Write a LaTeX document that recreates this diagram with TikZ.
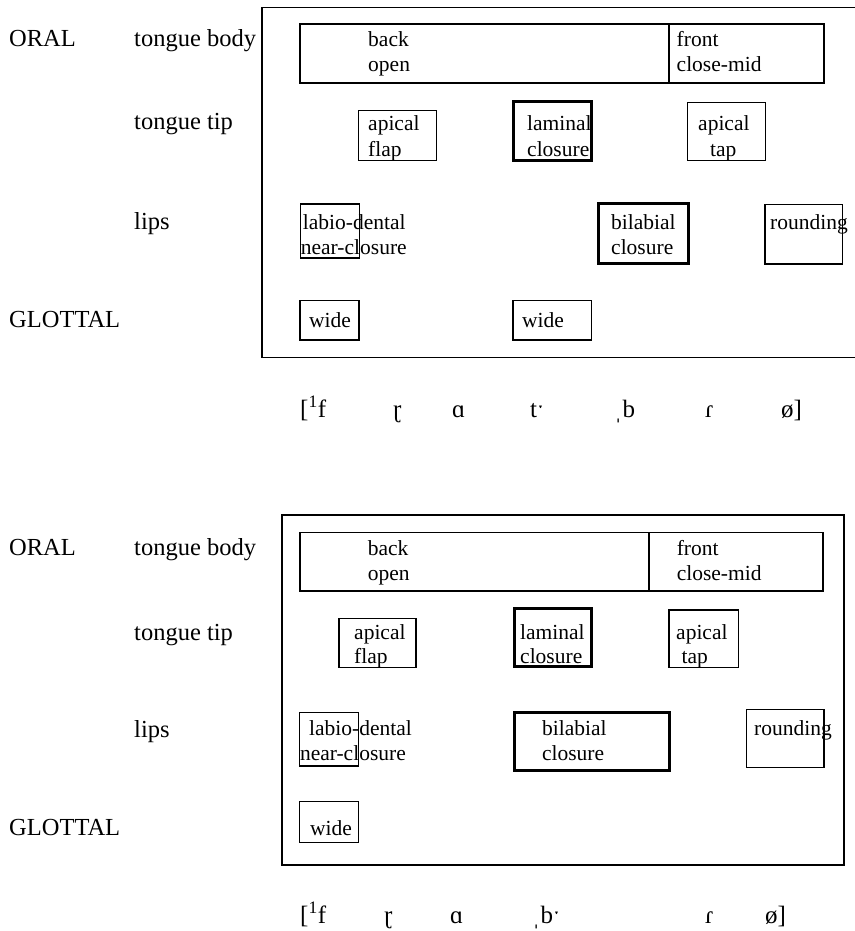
\documentclass[tikz,border=0pt]{standalone}
\usepackage{fontspec}
\setmainfont{Liberation Serif}
\begin{document}
\begin{tikzpicture}[x=1pt,y=-1pt,
  lbl/.style={anchor=base west,inner sep=0pt,font=\fontsize{24.5}{29}\selectfont},
  btxt/.style={anchor=base west,inner sep=0pt,font=\fontsize{21.5}{25}\selectfont},
  ipa/.style={anchor=base west,inner sep=0pt,font=\fontsize{25}{30}\selectfont},
  frameline/.style={draw,line width=1.6pt},
  box/.style={draw,line width=1.2pt,anchor=north west,inner sep=0pt,outer sep=0pt},
  thickbox/.style={box,line width=3pt}]
\useasboundingbox[fill=white] (0,0) rectangle (854,931);

% ---------------- first gestural score ----------------
\coordinate (fa) at (860,7.5);
\coordinate (fb) at (262,7.5);
\coordinate (fc) at (262,357.5);
\coordinate (fd) at (860,357.5);
\draw[frameline] (fa) -- (fb) -- (fc) -- (fd);

\node[lbl] (oralA)  at (9,47)    {ORAL};
\node[lbl] (tbA)    at (134,47)  {tongue body};
\node[lbl] (ttA)    at (134,130) {tongue tip};
\node[lbl] (lipsA)  at (134,229) {lips};
\node[lbl] (glotA)  at (9,327)   {GLOTTAL};

\node[box,minimum width=369,minimum height=59] (backA) at (300,24) {};
\node[box,minimum width=155,minimum height=59] (frontA) at (669,24) {};
\node[btxt] at (368,47) {back};
\node[btxt] at (368,72) {open};
\node[btxt] at (676.5,47) {front};
\node[btxt] at (676.5,72) {close-mid};

\node[box,minimum width=78.4,minimum height=50.1] (flapA) at (358.4,110.6) {};
\node[btxt] at (368,131) {apical};
\node[btxt] at (368,156) {flap};
\node[thickbox,minimum width=78.6,minimum height=59.2] (lamA) at (513,101.5) {};
\node[btxt] at (527,131) {laminal};
\node[btxt] at (527,156) {closure};
\node[box,minimum width=78,minimum height=58.5] (tapA) at (687.6,102.2) {};
\node[btxt] at (698,131) {apical};
\node[btxt] at (710,156) {tap};

\node[box,minimum width=58.4,minimum height=54] (labA) at (300.7,204) {};
\node[btxt] at (302.7,229.4) {labio-dental};
\node[btxt] at (300.7,254.5) {near-closure};
\node[thickbox,minimum width=90.3,minimum height=60.3] (bilA) at (598.5,203.6) {};
\node[btxt] at (611,229.4) {bilabial};
\node[btxt] at (611,254.5) {closure};
\node[box,minimum width=77.6,minimum height=59.3] (rndA) at (764.9,204.6) {};
\node[btxt] at (770,229.4) {rounding};

\node[box,minimum width=59,minimum height=39.2] (wideA) at (300,300.8) {};
\node[btxt] at (309,327.5) {wide};
\node[box,minimum width=78.2,minimum height=39.2] (wideB) at (513,300.8) {};
\node[btxt] at (522,327.5) {wide};

\node[ipa] at (300,417) {[\textsuperscript{1}f};
\node[ipa] at (393,417) {ɽ};
\node[ipa] at (452,417) {ɑ};
\node[ipa] at (530,417) {tˑ};
\node[ipa] at (614,417) {ˌb};
\node[ipa] at (705,417) {ɾ};
\node[ipa] at (781,417) {ø]};

% ---------------- second gestural score ----------------
\node[frameline,anchor=north west,inner sep=0pt,outer sep=0pt,
      minimum width=562,minimum height=350] (frameB) at (282,515) {};

\node[lbl] (oralB)  at (9,555)   {ORAL};
\node[lbl] (tbB)    at (134,555) {tongue body};
\node[lbl] (ttB)    at (134,640) {tongue tip};
\node[lbl] (lipsB)  at (134,737) {lips};
\node[lbl] (glotB)  at (9,835)   {GLOTTAL};

\node[box,minimum width=349,minimum height=58.5] (backB) at (300,532.5) {};
\node[box,minimum width=174,minimum height=58.5] (frontB) at (649,532.5) {};
\node[btxt] at (367.6,555) {back};
\node[btxt] at (367.6,580) {open};
\node[btxt] at (676.6,555) {front};
\node[btxt] at (676.6,580) {close-mid};

\node[box,minimum width=77,minimum height=49] (flapB) at (339,618.7) {};
\node[btxt] at (354,639) {apical};
\node[btxt] at (354,663.5) {flap};
\node[thickbox,minimum width=77,minimum height=58.7] (lamB) at (514,608) {};
\node[btxt] at (520,639) {laminal};
\node[btxt] at (520,663) {closure};
\node[box,minimum width=69.5,minimum height=57.7] (tapB) at (669,610) {};
\node[btxt] at (676,639) {apical};
\node[btxt] at (681.5,663.5) {tap};

\node[box,minimum width=58.8,minimum height=53.7] (labB) at (299.8,712.3) {};
\node[btxt] at (309,735) {labio-dental};
\node[btxt] at (299.8,760) {near-closure};
\node[thickbox,minimum width=155.6,minimum height=57.7] (bilB) at (514,712.3) {};
\node[btxt] at (541.9,735) {bilabial};
\node[btxt] at (541.9,760) {closure};
\node[box,minimum width=77.3,minimum height=58.4] (rndB) at (746.7,709.3) {};
\node[btxt] at (754,735) {rounding};

\node[box,minimum width=58.8,minimum height=40.5] (wideC) at (299.8,801.7) {};
\node[btxt] at (309.8,835) {wide};

\node[ipa] at (300,923) {[\textsuperscript{1}f};
\node[ipa] at (384,923) {ɽ};
\node[ipa] at (450,923) {ɑ};
\node[ipa] at (532,923) {ˌbˑ};
\node[ipa] at (705,923) {ɾ};
\node[ipa] at (765,923) {ø]};
\end{tikzpicture}
\end{document}
